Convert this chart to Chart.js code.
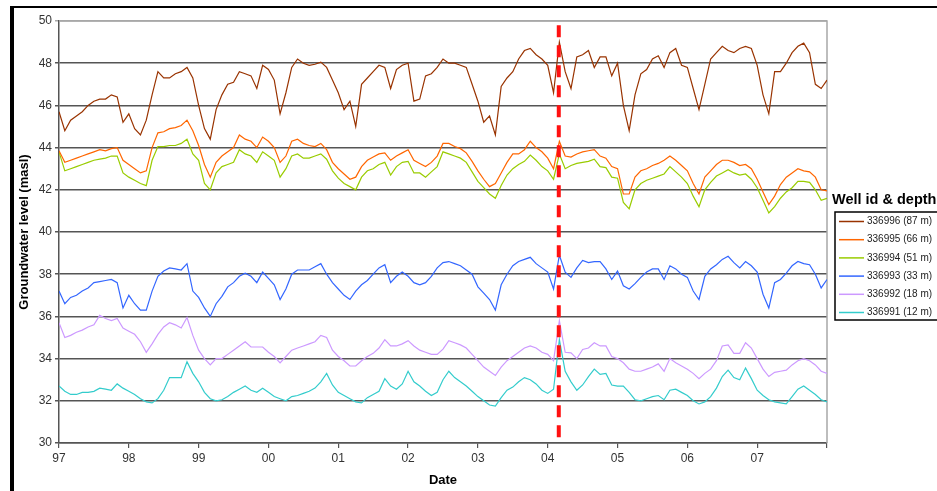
<!DOCTYPE html>
<html>
<head>
<meta charset="utf-8">
<script src="https://cdn.jsdelivr.net/npm/chart.js@4.4.0/dist/chart.umd.min.js"></script>
<style>
  html, body { margin: 0; padding: 0; background: #fff; }
  #wrap { position: relative; width: 937px; height: 491px; overflow: hidden; }
  #lineChart { position: absolute; left: 0; top: 0; }
  #frame { position: absolute; left: 10px; top: 6px; right: 0; bottom: -10px;
           border-top: 2px solid #000; border-left: 4px solid #000; pointer-events: none; }
</style>
</head>
<body>
<div id="wrap">
  <canvas id="lineChart" width="937" height="491"></canvas>
  <div id="frame"></div>
</div>
<script>
// monthly readings, Jan 1997 .. Jan 2008 (index = months since Jan 97)
const tickLabels = ['97', '98', '99', '00', '01', '02', '03', '04', '05', '06', '07', ''];
const eventMonth = 85.9; // red dashed marker, ~Mar 2004

const wellNames = ['336996 (87 m)', '336995 (66 m)', '336994 (51 m)', '336993 (33 m)', '336992 (18 m)', '336991 (12 m)'];
const wellColors = ['#993300', '#ff6600', '#99cc00', '#3366ff', '#cc99ff', '#33cccc'];

const w336996 = [
  45.7, 44.8, 45.3, 45.5, 45.7, 46.0, 46.2, 46.3, 46.3, 46.5, 46.4, 45.2,
  45.6, 44.9, 44.6, 45.3, 46.5, 47.6, 47.3, 47.3, 47.5, 47.6, 47.8, 47.3,
  46.0, 44.9, 44.4, 45.8, 46.5, 47.0, 47.1, 47.6, 47.5, 47.4, 46.8, 47.9,
  47.7, 47.2, 45.6, 46.6, 47.8, 48.2, 48.0, 47.9, 47.95, 48.05, 47.8, 47.2,
  46.6, 45.8, 46.2, 45.0, 47.0, 47.3, 47.6, 47.9, 47.8, 46.8, 47.7, 47.9,
  48.0, 46.2, 46.3, 47.4, 47.5, 47.8, 48.2, 48.0, 48.0, 47.9, 47.8, 47.0,
  46.2, 45.2, 45.5, 44.6, 46.9, 47.3, 47.6, 48.2, 48.6, 48.7, 48.4, 48.2,
  47.9, 46.6, 49.0, 47.6, 46.8, 48.3, 48.4, 48.6, 47.8, 48.3, 48.3, 47.4,
  48.0, 46.0, 44.8, 46.5, 47.5, 47.7, 48.2, 48.35, 47.8, 48.5, 48.7, 47.9,
  47.8, 46.8, 45.8, 47.0, 48.2, 48.5, 48.8, 48.6, 48.5, 48.7, 48.8, 48.7,
  47.9, 46.5, 45.6, 47.6, 47.6, 48.0, 48.5, 48.8, 48.95, 48.5, 47.0, 46.8, 47.2
];
const w336995 = [
  43.85, 43.3, 43.4, 43.5, 43.6, 43.7, 43.8, 43.9, 43.85, 43.95, 44.0, 43.4,
  43.2, 43.0, 42.8, 42.9, 44.0, 44.7, 44.75, 44.9, 44.95, 45.05, 45.3, 44.8,
  44.1, 43.2, 42.6, 43.3, 43.6, 43.8, 44.0, 44.6, 44.4, 44.3, 44.0, 44.5,
  44.3, 44.0, 43.3, 43.6, 44.3, 44.4, 44.2, 44.1, 44.05, 44.2, 43.9, 43.3,
  43.0, 42.75, 42.5, 42.6, 43.1, 43.4, 43.55, 43.7, 43.75, 43.4, 43.6, 43.75,
  43.9, 43.4, 43.25, 43.1, 43.3, 43.6, 44.2, 44.2, 44.05, 43.95, 43.75, 43.35,
  42.9, 42.5, 42.15, 42.3, 42.8, 43.3, 43.7, 43.7, 43.9, 44.3, 44.0, 43.8,
  43.5, 43.0, 44.3, 43.6, 43.55, 43.7, 43.8, 43.85, 43.9, 43.6, 43.5, 43.1,
  43.0, 41.8, 41.8, 42.6, 42.9, 43.0, 43.15, 43.25, 43.4, 43.6, 43.4, 43.15,
  42.9, 42.3, 41.8, 42.6, 42.9, 43.2, 43.4, 43.4, 43.3, 43.15, 43.2, 43.0,
  42.5, 41.9, 41.3, 41.7, 42.25, 42.6, 42.8, 43.0, 42.9, 42.85, 42.6, 42.0, 41.95
];
const w336994 = [
  43.8, 42.9, 43.0, 43.1, 43.2, 43.3, 43.4, 43.45, 43.5, 43.6, 43.6, 42.8,
  42.6, 42.45, 42.3, 42.2, 43.4, 44.05, 44.05, 44.1, 44.1, 44.2, 44.4, 43.7,
  43.4, 42.3, 42.0, 42.8, 43.1, 43.2, 43.3, 43.9, 43.7, 43.6, 43.3, 43.8,
  43.6, 43.4, 42.6, 43.0, 43.6, 43.7, 43.5, 43.5, 43.6, 43.7, 43.45, 42.9,
  42.55, 42.3, 42.15, 42.0, 42.6, 42.9, 43.0, 43.2, 43.3, 42.7, 43.1, 43.3,
  43.35, 42.8, 42.8, 42.6, 42.85, 43.1, 43.8, 43.7, 43.6, 43.5, 43.3, 42.85,
  42.4, 42.1, 41.8, 41.6, 42.2, 42.7, 43.0, 43.2, 43.35, 43.65, 43.4, 43.1,
  42.9, 42.5, 43.7, 43.0, 43.15, 43.25, 43.3, 43.35, 43.45, 43.1, 43.05, 42.6,
  42.55, 41.4, 41.1, 42.0, 42.3, 42.45, 42.55, 42.65, 42.75, 43.1, 42.85, 42.6,
  42.3, 41.7, 41.2, 42.0, 42.35, 42.65, 42.8, 42.95, 42.8, 42.7, 42.75, 42.5,
  42.1, 41.5, 40.9, 41.2, 41.6, 41.9, 42.1, 42.4, 42.4, 42.35, 42.0, 41.5, 41.6
];
const w336993 = [
  37.2, 36.6, 36.9, 37.0, 37.2, 37.35, 37.6, 37.65, 37.7, 37.75, 37.6, 36.4,
  37.0, 36.6, 36.3, 36.3, 37.2, 37.9, 38.15, 38.3, 38.25, 38.2, 38.5, 37.2,
  36.9, 36.4, 36.0, 36.6, 36.95, 37.4, 37.6, 37.9, 38.05, 37.9, 37.6, 38.1,
  37.8, 37.5, 36.8, 37.3, 38.0, 38.2, 38.2, 38.2, 38.35, 38.5, 38.0, 37.6,
  37.3, 37.0, 36.8, 37.2, 37.5, 37.7, 38.0, 38.3, 38.45, 37.6, 37.9, 38.1,
  37.9, 37.6, 37.5, 37.6, 37.9, 38.3, 38.55, 38.6, 38.5, 38.4, 38.2, 38.0,
  37.4, 37.1, 36.8, 36.3, 37.5, 38.0, 38.4, 38.6, 38.7, 38.8, 38.5, 38.3,
  38.1, 37.3, 38.9, 38.1, 37.85, 38.3, 38.65, 38.55, 38.6, 38.6, 38.25, 37.75,
  38.15, 37.45, 37.3, 37.55, 37.85, 38.1, 38.25, 38.25, 37.75, 38.4, 38.25, 38.0,
  37.85, 37.2, 36.8, 37.9, 38.25, 38.45, 38.7, 38.85, 38.55, 38.3, 38.6, 38.4,
  38.1, 37.05, 36.4, 37.6, 37.75, 38.05, 38.4, 38.6, 38.5, 38.45, 38.0, 37.35, 37.75
];
const w336992 = [
  35.7, 35.0, 35.1, 35.25, 35.35, 35.5, 35.6, 36.05, 35.9, 35.8, 35.9, 35.45,
  35.3, 35.15, 34.8, 34.3, 34.7, 35.15, 35.5, 35.7, 35.6, 35.45, 35.95, 35.1,
  34.4, 34.0, 33.7, 34.0, 34.0, 34.2, 34.4, 34.6, 34.8, 34.55, 34.55, 34.55,
  34.3, 34.1, 33.8, 34.1, 34.4, 34.5, 34.6, 34.7, 34.8, 35.1, 35.0, 34.4,
  34.1, 33.9, 33.65, 33.65, 33.9, 34.1, 34.25, 34.5, 34.9, 34.6, 34.6, 34.7,
  34.85, 34.6, 34.4, 34.3, 34.2, 34.2, 34.45, 34.85, 34.75, 34.65, 34.5, 34.2,
  33.9, 33.6, 33.4, 33.2, 33.6, 33.9, 34.1, 34.3, 34.5, 34.6, 34.5, 34.3,
  34.2, 33.9, 35.8, 34.3, 34.27, 34.0, 34.43, 34.5, 34.75, 34.6, 34.6, 34.1,
  34.0, 33.8, 33.5, 33.4, 33.4, 33.5, 33.6, 33.75, 33.4, 34.0, 33.8, 33.65,
  33.5, 33.3, 33.05, 33.3, 33.5, 33.9, 34.6, 34.65, 34.25, 34.25, 34.75, 34.5,
  34.0, 33.5, 33.15, 33.35, 33.4, 33.45, 33.7, 33.9, 34.0, 33.9, 33.7, 33.4, 33.3
];
const w336991 = [
  32.7, 32.45, 32.3, 32.3, 32.4, 32.4, 32.45, 32.6, 32.55, 32.5, 32.8, 32.6,
  32.45, 32.3, 32.1, 31.95, 31.9, 32.1, 32.5, 33.1, 33.1, 33.1, 33.85, 33.3,
  32.9, 32.4, 32.1, 32.0, 32.05, 32.2, 32.4, 32.55, 32.7, 32.5, 32.4, 32.6,
  32.4, 32.2, 32.1, 32.0, 32.2, 32.25, 32.35, 32.45, 32.6, 32.9, 33.3, 32.75,
  32.4, 32.25, 32.1, 31.95, 31.9, 32.15, 32.3, 32.45, 33.05, 32.7, 32.55, 32.8,
  33.4, 32.9, 32.7, 32.45, 32.25, 32.4, 33.0, 33.4, 33.1, 32.9, 32.7, 32.45,
  32.2, 32.0, 31.8, 31.75, 32.15, 32.5, 32.65, 32.9, 33.1, 33.0, 32.8, 32.5,
  32.35, 32.55, 34.9, 33.4, 32.9, 32.5, 32.75, 33.15, 33.5, 33.25, 33.3, 32.75,
  32.7, 32.7, 32.4, 32.05, 32.0, 32.1, 32.2, 32.25, 32.05, 32.5, 32.55, 32.4,
  32.25, 32.0, 31.85, 31.95, 32.2, 32.6, 33.15, 33.45, 33.1, 33.0, 33.55, 33.05,
  32.5, 32.25, 32.05, 31.95, 31.9, 31.85, 32.2, 32.55, 32.7, 32.5, 32.3, 32.05, 31.95
];

const wellSeries = [w336996, w336995, w336994, w336993, w336992, w336991];

const tickFont = { family: '"Liberation Sans", Arial, sans-serif', size: 12 };
const titleFont = { family: '"Liberation Sans", Arial, sans-serif', size: 13, weight: 'bold' };

// grey border on top/right of the plot, like the Excel plot area
const plotFrame = {
  id: 'plotFrame',
  beforeDatasetsDraw(chart) {
    const { ctx, chartArea: a } = chart;
    ctx.save();
    ctx.strokeStyle = '#a8a8a8';
    ctx.lineWidth = 1.5;
    ctx.beginPath();
    ctx.moveTo(a.left, a.top);
    ctx.lineTo(a.right, a.top);
    ctx.lineTo(a.right, a.bottom);
    ctx.stroke();
    ctx.restore();
  }
};

// boxed legend with the title above it
const wellLegend = {
  id: 'wellLegend',
  afterDraw(chart) {
    const ctx = chart.ctx;
    const left = chart.chartArea.right + 8;
    const top = 212;
    ctx.save();
    ctx.fillStyle = '#000';
    ctx.textBaseline = 'middle';
    ctx.font = 'bold 14.5px "Liberation Sans", Arial, sans-serif';
    ctx.fillText('Well id & depth', chart.chartArea.right + 5, 200);
    ctx.strokeStyle = '#000';
    ctx.lineWidth = 1.5;
    ctx.strokeRect(left, top, 130, 108);
    ctx.font = '10px "Liberation Sans", Arial, sans-serif';
    wellNames.forEach((name, i) => {
      const y = top + 9.5 + i * 18.2;
      ctx.strokeStyle = wellColors[i];
      ctx.lineWidth = 1.5;
      ctx.beginPath();
      ctx.moveTo(left + 4, y);
      ctx.lineTo(left + 29, y);
      ctx.stroke();
      ctx.fillStyle = '#222';
      ctx.fillText(name, left + 32, y);
    });
    ctx.restore();
  }
};

const datasets = wellSeries.map((vals, i) => ({
  label: wellNames[i],
  data: vals.map((v, m) => ({ x: m, y: v })),
  borderColor: wellColors[i],
  borderWidth: 1.2,
  pointRadius: 0,
  tension: 0
}));

datasets.push({
  label: 'event',
  data: [{ x: eventMonth, y: 49.8 }, { x: eventMonth, y: 30 }],
  borderColor: '#ff1111',
  borderWidth: 4,
  borderDash: [12, 8],
  pointRadius: 0,
  order: -1
});

new Chart(document.getElementById('lineChart'), {
  type: 'line',
  data: { datasets: datasets },
  options: {
    responsive: false,
    animation: false,
    devicePixelRatio: 1,
    layout: { padding: { left: 14, top: 21, right: 110, bottom: 0 } },
    plugins: {
      legend: { display: false },
      tooltip: { enabled: false }
    },
    scales: {
      x: {
        type: 'linear',
        min: 0,
        max: 132,
        afterBuildTicks: (s) => { s.ticks = tickLabels.map((_, i) => ({ value: i * 12 })); },
        afterFit: (s) => { s.height = 48; },
        ticks: {
          autoSkip: false,
          maxRotation: 0,
          padding: 3,
          font: tickFont,
          color: '#333',
          callback: (v, i) => tickLabels[i]
        },
        grid: { drawOnChartArea: false, tickLength: 5, color: '#555', lineWidth: 1.2 },
        border: { color: '#555', width: 1.5 },
        title: { display: true, text: 'Date', font: titleFont, color: '#000', padding: { top: 4, bottom: 3 } }
      },
      y: {
        min: 30,
        max: 50,
        afterFit: (s) => { s.width = 45; },
        ticks: { stepSize: 2, padding: 3, font: tickFont, color: '#333' },
        grid: {
          color: (c) => (c.tick && c.tick.value === 50 ? '#a8a8a8' : '#555'),
          lineWidth: 1.5,
          tickLength: 4
        },
        border: { color: '#555', width: 1.5 },
        title: { display: true, text: 'Groundwater level (masl)', font: titleFont, color: '#000', padding: { top: 3, bottom: 0 } }
      }
    }
  },
  plugins: [plotFrame, wellLegend]
});
</script>
</body>
</html>
